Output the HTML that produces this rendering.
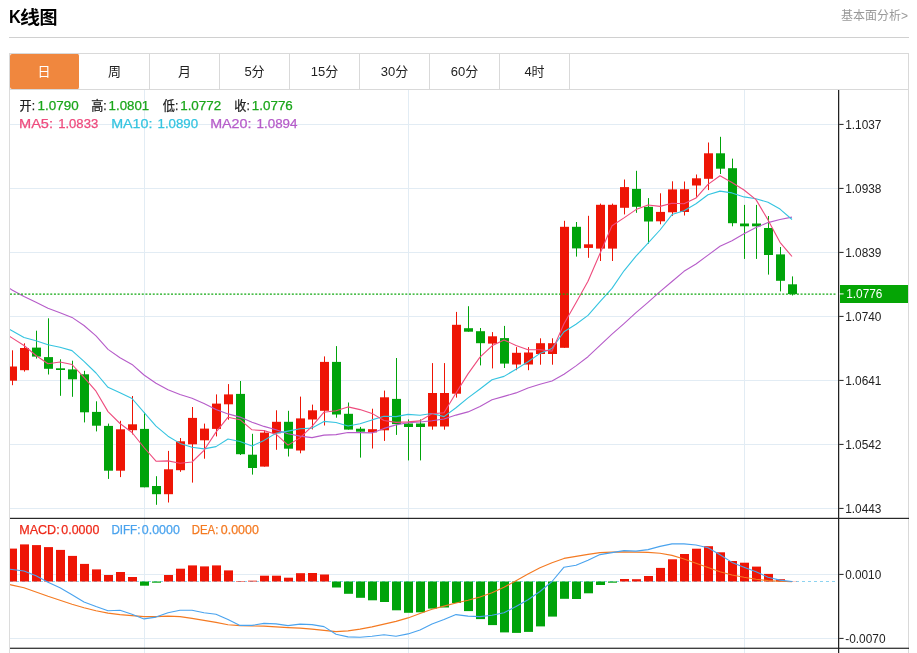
<!DOCTYPE html>
<html lang="zh-CN"><head><meta charset="utf-8"><title>K线图</title>
<style>
html,body{margin:0;padding:0;background:#fff}
body{width:917px;height:653px;position:relative;overflow:hidden;font-family:"Liberation Sans","Noto Sans CJK SC",sans-serif;color:#222}
.title{position:absolute;left:9px;top:6px;width:60px;height:24px;font-size:17px;font-weight:bold;line-height:24px;color:#000;letter-spacing:0.9px}
.title .k{position:absolute;left:0;top:-1px;font-size:19px;line-height:24px;transform:scaleX(.86);transform-origin:0 50%;letter-spacing:0}
.title .cj{position:absolute;top:-0.5px;font-size:18px;line-height:24px;letter-spacing:0;white-space:nowrap;transform-origin:0 50%}
.title .c1{left:10.9px;transform:scaleX(1.11)}
.title .c2{left:30.5px}
.more{position:absolute;right:9px;top:8px;font-size:12px;line-height:16px;color:#999}
.hr{position:absolute;left:9px;top:37px;width:900px;height:1px;background:#d0d0d0}
.tabs{position:absolute;left:9px;top:53px;width:898px;height:35px;border:1px solid #d9d9d9;box-sizing:content-box;background:#fff}
.tab{float:left;width:69px;height:35px;line-height:35px;text-align:center;font-size:13px;border-right:1px solid #d9d9d9;color:#222}
.tab.on{background:#f0873e;color:#fff;border-right-color:#fff;border-radius:2px;text-indent:-1px}
</style></head><body>
<div class="title"><span class="k">K</span><span class="cj c1">线</span><span class="cj c2">图</span></div>
<div class="more">基本面分析&gt;</div>
<div class="hr"></div>
<svg width="917" height="653" viewBox="0 0 917 653" style="position:absolute;left:0;top:0" font-family="'Liberation Sans','Noto Sans CJK SC',sans-serif">
<defs><clipPath id="ck"><rect x="10" y="90" width="828" height="429"/></clipPath><clipPath id="cm"><rect x="10" y="519" width="828" height="129"/></clipPath></defs>
<rect x="10" y="124" width="828" height="1" fill="#e2ecf4"/>
<rect x="10" y="188" width="828" height="1" fill="#e2ecf4"/>
<rect x="10" y="252" width="828" height="1" fill="#e2ecf4"/>
<rect x="10" y="316" width="828" height="1" fill="#e2ecf4"/>
<rect x="10" y="380" width="828" height="1" fill="#e2ecf4"/>
<rect x="10" y="444" width="828" height="1" fill="#e2ecf4"/>
<rect x="10" y="508" width="828" height="1" fill="#e2ecf4"/>
<rect x="10" y="574" width="828" height="1" fill="#e2ecf4"/>
<rect x="10" y="638" width="828" height="1" fill="#e2ecf4"/>
<rect x="144" y="90" width="1" height="563" fill="#e2ecf4"/>
<rect x="408" y="90" width="1" height="563" fill="#e2ecf4"/>
<rect x="744" y="90" width="1" height="563" fill="#e2ecf4"/>
<rect x="9" y="90" width="1" height="563" fill="#dcdcdc"/>
<rect x="908" y="53" width="1" height="600" fill="#d9d9d9"/>
<line x1="10" y1="581.5" x2="836" y2="581.5" stroke="#8dd3f0" stroke-width="1.1" stroke-dasharray="3 3"/>
<g clip-path="url(#ck)">
<rect x="12" y="350.3" width="1" height="34.9" fill="#ee1505"/>
<rect x="8" y="366.5" width="9" height="14.2" fill="#ee1505"/>
<rect x="24" y="343.3" width="1" height="28.3" fill="#ee1505"/>
<rect x="20" y="348" width="9" height="22.2" fill="#ee1505"/>
<rect x="36" y="330.7" width="1" height="27.9" fill="#00a30a"/>
<rect x="32" y="347.6" width="9" height="9" fill="#00a30a"/>
<rect x="48" y="318.3" width="1" height="56.2" fill="#00a30a"/>
<rect x="44" y="357.1" width="9" height="11.7" fill="#00a30a"/>
<rect x="60" y="359.3" width="1" height="36.5" fill="#00a30a"/>
<rect x="56" y="368.3" width="9" height="1.7" fill="#00a30a"/>
<rect x="72" y="360.7" width="1" height="36.1" fill="#00a30a"/>
<rect x="68" y="369.4" width="9" height="9.9" fill="#00a30a"/>
<rect x="84" y="370.8" width="1" height="51.6" fill="#00a30a"/>
<rect x="80" y="374.3" width="9" height="38" fill="#00a30a"/>
<rect x="96" y="401.3" width="1" height="30.1" fill="#00a30a"/>
<rect x="92" y="411.9" width="9" height="13.8" fill="#00a30a"/>
<rect x="108" y="423.6" width="1" height="55.3" fill="#00a30a"/>
<rect x="104" y="425.9" width="9" height="44.8" fill="#00a30a"/>
<rect x="120" y="420.8" width="1" height="56.3" fill="#ee1505"/>
<rect x="116" y="429.3" width="9" height="41.4" fill="#ee1505"/>
<rect x="132" y="396" width="1" height="38.4" fill="#ee1505"/>
<rect x="128" y="424.3" width="9" height="5.9" fill="#ee1505"/>
<rect x="144" y="412.3" width="1" height="75" fill="#00a30a"/>
<rect x="140" y="428.9" width="9" height="58.4" fill="#00a30a"/>
<rect x="156" y="476.2" width="1" height="28.6" fill="#00a30a"/>
<rect x="152" y="486" width="9" height="8.2" fill="#00a30a"/>
<rect x="168" y="450.9" width="1" height="51.6" fill="#ee1505"/>
<rect x="164" y="469.3" width="9" height="24.9" fill="#ee1505"/>
<rect x="180" y="438" width="1" height="33.8" fill="#ee1505"/>
<rect x="176" y="441.3" width="9" height="28.9" fill="#ee1505"/>
<rect x="192" y="407" width="1" height="75.6" fill="#ee1505"/>
<rect x="188" y="417.9" width="9" height="26.4" fill="#ee1505"/>
<rect x="204" y="423.6" width="1" height="35.1" fill="#ee1505"/>
<rect x="200" y="428.6" width="9" height="11.7" fill="#ee1505"/>
<rect x="216" y="394.4" width="1" height="42" fill="#ee1505"/>
<rect x="212" y="403.6" width="9" height="25.3" fill="#ee1505"/>
<rect x="228" y="384.1" width="1" height="35.6" fill="#ee1505"/>
<rect x="224" y="394.4" width="9" height="9.9" fill="#ee1505"/>
<rect x="240" y="381" width="1" height="74" fill="#00a30a"/>
<rect x="236" y="393.9" width="9" height="60.3" fill="#00a30a"/>
<rect x="252" y="433.8" width="1" height="40.8" fill="#00a30a"/>
<rect x="248" y="454.7" width="9" height="13.3" fill="#00a30a"/>
<rect x="264" y="430.3" width="1" height="36.3" fill="#ee1505"/>
<rect x="260" y="432.6" width="9" height="34" fill="#ee1505"/>
<rect x="276" y="410.3" width="1" height="39.5" fill="#ee1505"/>
<rect x="272" y="421.8" width="9" height="11.5" fill="#ee1505"/>
<rect x="288" y="410.8" width="1" height="45.7" fill="#00a30a"/>
<rect x="284" y="421.8" width="9" height="26.9" fill="#00a30a"/>
<rect x="300" y="396.6" width="1" height="56.7" fill="#ee1505"/>
<rect x="296" y="418.4" width="9" height="32.1" fill="#ee1505"/>
<rect x="312" y="404.6" width="1" height="24.8" fill="#ee1505"/>
<rect x="308" y="410.3" width="9" height="9.2" fill="#ee1505"/>
<rect x="324" y="356.4" width="1" height="69.1" fill="#ee1505"/>
<rect x="320" y="361.9" width="9" height="48.9" fill="#ee1505"/>
<rect x="336" y="346.1" width="1" height="71.6" fill="#00a30a"/>
<rect x="332" y="361.9" width="9" height="52.6" fill="#00a30a"/>
<rect x="348" y="402.5" width="1" height="27.1" fill="#00a30a"/>
<rect x="344" y="413.8" width="9" height="15.8" fill="#00a30a"/>
<rect x="360" y="426.9" width="1" height="30.7" fill="#00a30a"/>
<rect x="356" y="428.7" width="9" height="3" fill="#00a30a"/>
<rect x="372" y="408.7" width="1" height="39.8" fill="#ee1505"/>
<rect x="368" y="429.2" width="9" height="3.2" fill="#ee1505"/>
<rect x="384" y="390.6" width="1" height="50.3" fill="#ee1505"/>
<rect x="380" y="397.3" width="9" height="33" fill="#ee1505"/>
<rect x="396" y="358" width="1" height="76.9" fill="#00a30a"/>
<rect x="392" y="398.9" width="9" height="25.2" fill="#00a30a"/>
<rect x="408" y="419.4" width="1" height="41" fill="#00a30a"/>
<rect x="404" y="423.5" width="9" height="3.5" fill="#00a30a"/>
<rect x="420" y="419.4" width="1" height="41" fill="#00a30a"/>
<rect x="416" y="423.5" width="9" height="3.5" fill="#00a30a"/>
<rect x="432" y="363.1" width="1" height="66.6" fill="#ee1505"/>
<rect x="428" y="393" width="9" height="33.5" fill="#ee1505"/>
<rect x="444" y="363.1" width="1" height="66.6" fill="#ee1505"/>
<rect x="440" y="393" width="9" height="33.5" fill="#ee1505"/>
<rect x="456" y="311.9" width="1" height="85.7" fill="#ee1505"/>
<rect x="452" y="324.8" width="9" height="68.9" fill="#ee1505"/>
<rect x="468" y="306.2" width="1" height="25.5" fill="#00a30a"/>
<rect x="464" y="328.2" width="9" height="3.5" fill="#00a30a"/>
<rect x="480" y="328" width="1" height="37.4" fill="#00a30a"/>
<rect x="476" y="331.2" width="9" height="12" fill="#00a30a"/>
<rect x="492" y="332.1" width="1" height="36.3" fill="#ee1505"/>
<rect x="488" y="336.3" width="9" height="7.3" fill="#ee1505"/>
<rect x="504" y="325.9" width="1" height="42.1" fill="#00a30a"/>
<rect x="500" y="338.1" width="9" height="25.5" fill="#00a30a"/>
<rect x="516" y="347.1" width="1" height="23.1" fill="#ee1505"/>
<rect x="512" y="352.8" width="9" height="11.7" fill="#ee1505"/>
<rect x="528" y="347.1" width="1" height="23.1" fill="#ee1505"/>
<rect x="524" y="352.5" width="9" height="12" fill="#ee1505"/>
<rect x="540" y="338.3" width="1" height="26.4" fill="#ee1505"/>
<rect x="536" y="343.2" width="9" height="10.8" fill="#ee1505"/>
<rect x="552" y="338.3" width="1" height="26.4" fill="#ee1505"/>
<rect x="548" y="343.2" width="9" height="10.8" fill="#ee1505"/>
<rect x="564" y="220.8" width="1" height="127" fill="#ee1505"/>
<rect x="560" y="226.8" width="9" height="121" fill="#ee1505"/>
<rect x="576" y="222" width="1" height="34.6" fill="#00a30a"/>
<rect x="572" y="226.8" width="9" height="21.6" fill="#00a30a"/>
<rect x="588" y="215.8" width="1" height="42" fill="#ee1505"/>
<rect x="584" y="244.3" width="9" height="3.6" fill="#ee1505"/>
<rect x="600" y="203.6" width="1" height="57.4" fill="#ee1505"/>
<rect x="596" y="204.8" width="9" height="43.8" fill="#ee1505"/>
<rect x="612" y="203.6" width="1" height="57.4" fill="#ee1505"/>
<rect x="608" y="204.8" width="9" height="43.8" fill="#ee1505"/>
<rect x="624" y="179.5" width="1" height="34.9" fill="#ee1505"/>
<rect x="620" y="187.1" width="9" height="20.7" fill="#ee1505"/>
<rect x="636" y="170.8" width="1" height="42" fill="#00a30a"/>
<rect x="632" y="188.9" width="9" height="17.9" fill="#00a30a"/>
<rect x="648" y="198.1" width="1" height="45.5" fill="#00a30a"/>
<rect x="644" y="206.8" width="9" height="14.7" fill="#00a30a"/>
<rect x="660" y="193.3" width="1" height="31" fill="#ee1505"/>
<rect x="656" y="211.9" width="9" height="9.4" fill="#ee1505"/>
<rect x="672" y="181.3" width="1" height="34.5" fill="#ee1505"/>
<rect x="668" y="189.4" width="9" height="22.9" fill="#ee1505"/>
<rect x="684" y="181.5" width="1" height="34" fill="#ee1505"/>
<rect x="680" y="189.2" width="9" height="22.8" fill="#ee1505"/>
<rect x="696" y="174.5" width="1" height="22.3" fill="#ee1505"/>
<rect x="692" y="178.3" width="9" height="7.2" fill="#ee1505"/>
<rect x="708" y="142.5" width="1" height="47.6" fill="#ee1505"/>
<rect x="704" y="153.3" width="9" height="25.5" fill="#ee1505"/>
<rect x="720" y="136.8" width="1" height="37.2" fill="#00a30a"/>
<rect x="716" y="153.3" width="9" height="15.4" fill="#00a30a"/>
<rect x="732" y="158.6" width="1" height="67.7" fill="#00a30a"/>
<rect x="728" y="168.2" width="9" height="55" fill="#00a30a"/>
<rect x="744" y="204.9" width="1" height="54" fill="#00a30a"/>
<rect x="740" y="223.5" width="9" height="2.8" fill="#00a30a"/>
<rect x="756" y="204.9" width="1" height="54" fill="#00a30a"/>
<rect x="752" y="223.5" width="9" height="2.8" fill="#00a30a"/>
<rect x="768" y="216" width="1" height="58.6" fill="#00a30a"/>
<rect x="764" y="228" width="9" height="27" fill="#00a30a"/>
<rect x="780" y="247" width="1" height="44.4" fill="#00a30a"/>
<rect x="776" y="254.4" width="9" height="26.4" fill="#00a30a"/>
<rect x="792" y="276.4" width="1" height="19.1" fill="#00a30a"/>
<rect x="788" y="284.3" width="9" height="9.8" fill="#00a30a"/>
</g>
<polyline clip-path="url(#ck)" fill="none" stroke="#b65cc9" stroke-width="1.1" stroke-linejoin="round" points="0.5,283.2 12,289.9 24,296.6 36,302.2 48,308.3 60,312.7 72,317.4 84,325.5 96,335.8 108,349.4 120,357.8 132,364.4 144,375.0 156,383.2 168,389.8 180,394.4 192,398.3 204,403.6 216,409.4 228,413.9 240,417.1 252,422.2 264,426.4 276,429.7 288,433.7 300,436.1 312,437.6 324,435.1 336,434.6 348,432.5 360,432.6 372,432.9 384,428.4 396,424.9 408,422.8 420,422.0 432,420.8 444,419.0 456,415.1 468,411.9 480,406.4 492,399.8 504,396.4 516,392.9 528,388.1 540,384.3 552,381.0 564,374.2 576,365.9 588,356.7 600,345.3 612,334.1 624,323.6 636,312.7 648,302.4 660,291.7 672,281.5 684,271.3 696,264.0 708,255.1 720,246.3 732,240.7 744,233.8 756,227.5 768,222.6 780,219.5 792,217.1"/>
<polyline clip-path="url(#ck)" fill="none" stroke="#35c4e0" stroke-width="1.1" stroke-linejoin="round" points="0.5,324.1 12,330.8 24,337.5 36,340.7 48,344.8 60,347.3 72,350.6 84,361.3 96,373.0 108,387.3 120,392.7 132,398.5 144,412.4 156,426.2 168,436.2 180,443.4 192,447.2 204,448.9 216,446.6 228,439.0 240,441.5 252,445.9 264,440.4 276,433.2 288,431.1 300,428.8 312,428.1 324,421.4 336,422.5 348,426.0 360,423.8 372,419.9 384,416.3 396,416.6 408,414.4 420,415.3 432,413.5 444,416.6 456,407.7 468,397.9 480,389.0 492,379.7 504,376.4 516,369.2 528,361.8 540,353.4 552,348.4 564,331.8 576,324.2 588,315.4 600,301.6 612,288.4 624,270.8 636,256.2 648,243.1 660,230.0 672,214.6 684,210.8 696,203.8 708,194.7 720,191.1 732,192.9 744,196.9 756,198.8 768,202.2 780,209.1 792,219.5"/>
<polyline clip-path="url(#ck)" fill="none" stroke="#ee4b7d" stroke-width="1.1" stroke-linejoin="round" points="0.5,330.3 12,337.9 24,345.5 36,355.5 48,363.7 60,362.0 72,364.5 84,377.4 96,391.2 108,411.6 120,423.5 132,432.5 144,447.5 156,461.2 168,460.9 180,463.3 192,462.0 204,450.3 216,432.1 228,417.2 240,419.7 252,429.8 264,430.6 276,434.2 288,445.1 300,437.9 312,426.4 324,412.2 336,410.8 348,406.9 360,409.6 372,413.4 384,420.5 396,422.4 408,421.9 420,420.9 432,413.7 444,412.8 456,393.0 468,373.9 480,357.1 492,345.8 504,339.9 516,345.5 528,349.7 540,349.7 552,351.1 564,323.7 576,302.8 588,281.2 600,253.5 612,225.8 624,217.9 636,209.6 648,205.0 660,206.4 672,203.3 684,203.8 696,198.1 708,184.4 720,175.8 732,182.5 744,190.0 756,199.6 768,219.9 780,242.3 792,256.5"/>
<line x1="10" y1="294.1" x2="836.5" y2="294.1" stroke="#10a810" stroke-width="1.1" stroke-dasharray="2 1.66"/>
<g clip-path="url(#cm)">
<rect x="8" y="548.6" width="9" height="32.9" fill="#ee1505"/>
<rect x="20" y="544.4" width="9" height="37.1" fill="#ee1505"/>
<rect x="32" y="545.1" width="9" height="36.4" fill="#ee1505"/>
<rect x="44" y="547.1" width="9" height="34.4" fill="#ee1505"/>
<rect x="56" y="549.9" width="9" height="31.6" fill="#ee1505"/>
<rect x="68" y="555.9" width="9" height="25.6" fill="#ee1505"/>
<rect x="80" y="563.9" width="9" height="17.6" fill="#ee1505"/>
<rect x="92" y="569.4" width="9" height="12.1" fill="#ee1505"/>
<rect x="104" y="575" width="9" height="6.5" fill="#ee1505"/>
<rect x="116" y="572" width="9" height="9.5" fill="#ee1505"/>
<rect x="128" y="577" width="9" height="4.5" fill="#ee1505"/>
<rect x="140" y="581.5" width="9" height="4.2" fill="#00a30a"/>
<rect x="152" y="581.5" width="9" height="1.2" fill="#00a30a"/>
<rect x="164" y="575" width="9" height="6.5" fill="#ee1505"/>
<rect x="176" y="568.7" width="9" height="12.8" fill="#ee1505"/>
<rect x="188" y="565.4" width="9" height="16.1" fill="#ee1505"/>
<rect x="200" y="566.4" width="9" height="15.1" fill="#ee1505"/>
<rect x="212" y="565.4" width="9" height="16.1" fill="#ee1505"/>
<rect x="224" y="570.4" width="9" height="11.1" fill="#ee1505"/>
<rect x="236" y="581" width="9" height="0.5" fill="#ee1505"/>
<rect x="248" y="580.7" width="9" height="0.8" fill="#ee1505"/>
<rect x="260" y="575.7" width="9" height="5.8" fill="#ee1505"/>
<rect x="272" y="575.7" width="9" height="5.8" fill="#ee1505"/>
<rect x="284" y="577.7" width="9" height="3.8" fill="#ee1505"/>
<rect x="296" y="573.2" width="9" height="8.3" fill="#ee1505"/>
<rect x="308" y="573" width="9" height="8.5" fill="#ee1505"/>
<rect x="320" y="574.5" width="9" height="7" fill="#ee1505"/>
<rect x="332" y="581.5" width="9" height="6" fill="#00a30a"/>
<rect x="344" y="581.5" width="9" height="12.3" fill="#00a30a"/>
<rect x="356" y="581.5" width="9" height="16.3" fill="#00a30a"/>
<rect x="368" y="581.5" width="9" height="18.8" fill="#00a30a"/>
<rect x="380" y="581.5" width="9" height="20.5" fill="#00a30a"/>
<rect x="392" y="581.5" width="9" height="28.8" fill="#00a30a"/>
<rect x="404" y="581.5" width="9" height="31.3" fill="#00a30a"/>
<rect x="416" y="581.5" width="9" height="30.8" fill="#00a30a"/>
<rect x="428" y="581.5" width="9" height="27.1" fill="#00a30a"/>
<rect x="440" y="581.5" width="9" height="26" fill="#00a30a"/>
<rect x="452" y="581.5" width="9" height="21.5" fill="#00a30a"/>
<rect x="464" y="581.5" width="9" height="29.6" fill="#00a30a"/>
<rect x="476" y="581.5" width="9" height="37.6" fill="#00a30a"/>
<rect x="488" y="581.5" width="9" height="43.6" fill="#00a30a"/>
<rect x="500" y="581.5" width="9" height="50.9" fill="#00a30a"/>
<rect x="512" y="581.5" width="9" height="51.4" fill="#00a30a"/>
<rect x="524" y="581.5" width="9" height="50.4" fill="#00a30a"/>
<rect x="536" y="581.5" width="9" height="44.9" fill="#00a30a"/>
<rect x="548" y="581.5" width="9" height="35.1" fill="#00a30a"/>
<rect x="560" y="581.5" width="9" height="17.3" fill="#00a30a"/>
<rect x="572" y="581.5" width="9" height="17.5" fill="#00a30a"/>
<rect x="584" y="581.5" width="9" height="11.8" fill="#00a30a"/>
<rect x="596" y="581.5" width="9" height="3.5" fill="#00a30a"/>
<rect x="608" y="581.5" width="9" height="1.2" fill="#00a30a"/>
<rect x="620" y="579" width="9" height="2.5" fill="#ee1505"/>
<rect x="632" y="579.2" width="9" height="2.3" fill="#ee1505"/>
<rect x="644" y="576" width="9" height="5.5" fill="#ee1505"/>
<rect x="656" y="567.9" width="9" height="13.6" fill="#ee1505"/>
<rect x="668" y="559.3" width="9" height="22.2" fill="#ee1505"/>
<rect x="680" y="554" width="9" height="27.5" fill="#ee1505"/>
<rect x="692" y="548.7" width="9" height="32.8" fill="#ee1505"/>
<rect x="704" y="546.2" width="9" height="35.3" fill="#ee1505"/>
<rect x="716" y="552.3" width="9" height="29.2" fill="#ee1505"/>
<rect x="728" y="561" width="9" height="20.5" fill="#ee1505"/>
<rect x="740" y="562.7" width="9" height="18.8" fill="#ee1505"/>
<rect x="752" y="566.6" width="9" height="14.9" fill="#ee1505"/>
<rect x="764" y="573.9" width="9" height="7.6" fill="#ee1505"/>
<rect x="776" y="579.2" width="9" height="2.3" fill="#ee1505"/>
<rect x="788" y="581.3" width="9" height="0.2" fill="#ee1505"/>
</g>
<polyline clip-path="url(#cm)" fill="none" stroke="#f47a22" stroke-width="1.1" stroke-linejoin="round" points="0.5,582.4 12,585.1 24,587.8 36,592.0 48,596.3 60,600.3 72,604.3 84,607.8 96,610.8 108,613.1 120,614.6 132,615.6 144,616.6 156,616.6 168,616.1 180,616.6 192,618.4 204,620.4 216,622.4 228,624.7 240,625.6 252,625.9 264,626.1 276,626.9 288,627.6 300,628.1 312,629.1 324,630.4 336,631.6 348,630.9 360,629.1 372,626.9 384,624.1 396,621.4 408,617.9 420,613.6 432,609.3 444,606.1 456,603.0 468,600.3 480,597.0 492,592.8 504,587.3 516,580.7 528,574.0 540,567.7 552,562.7 564,558.4 576,556.4 588,554.4 600,552.6 612,552.1 624,551.9 636,552.1 648,552.4 660,553.2 672,555.4 684,559.0 696,563.2 708,567.5 720,571.7 732,575.0 744,577.3 756,579.2 768,580.6 780,581.2 792,581.7"/>
<polyline clip-path="url(#cm)" fill="none" stroke="#4aa3ee" stroke-width="1.1" stroke-linejoin="round" points="0.5,568 12,569.5 24,571.0 36,575.7 48,582.2 60,587.8 72,594.8 84,602.0 96,606.6 108,610.8 120,610.3 132,614.3 144,618.9 156,617.1 168,612.8 180,610.3 192,610.3 204,612.8 216,614.3 228,619.6 240,625.4 252,625.4 264,623.4 276,623.9 288,625.6 300,624.1 312,624.6 324,626.6 336,634.2 348,636.9 360,637.2 372,636.2 384,634.7 396,636.2 408,633.9 420,629.9 432,624.1 444,619.6 456,614.6 468,616.1 480,616.6 492,615.3 504,612.8 516,606.6 528,599.8 540,591.5 552,581.5 564,567.2 576,565.2 588,560.2 600,554.6 612,552.6 624,550.6 636,551.1 648,549.6 660,546.4 672,543.9 684,543.9 696,545.0 708,547.8 720,554.8 732,562.4 744,567.2 756,571.7 768,577.3 780,580.1 792,581.5"/>
<rect x="10" y="517.8" width="899" height="1.1" fill="#111"/>
<rect x="10" y="647.7" width="899" height="1.1" fill="#111"/>
<rect x="838" y="90" width="1.25" height="563" fill="#222"/>
<rect x="839.2" y="123.9" width="4.4" height="1" fill="#222"/>
<text x="845.2" y="128.6" font-size="12" fill="#222" textLength="36.2" lengthAdjust="spacingAndGlyphs">1.1037</text>
<rect x="839.2" y="187.9" width="4.4" height="1" fill="#222"/>
<text x="845.2" y="192.6" font-size="12" fill="#222" textLength="36.2" lengthAdjust="spacingAndGlyphs">1.0938</text>
<rect x="839.2" y="251.9" width="4.4" height="1" fill="#222"/>
<text x="845.2" y="256.6" font-size="12" fill="#222" textLength="36.2" lengthAdjust="spacingAndGlyphs">1.0839</text>
<rect x="839.2" y="315.9" width="4.4" height="1" fill="#222"/>
<text x="845.2" y="320.6" font-size="12" fill="#222" textLength="36.2" lengthAdjust="spacingAndGlyphs">1.0740</text>
<rect x="839.2" y="379.9" width="4.4" height="1" fill="#222"/>
<text x="845.2" y="384.6" font-size="12" fill="#222" textLength="36.2" lengthAdjust="spacingAndGlyphs">1.0641</text>
<rect x="839.2" y="443.9" width="4.4" height="1" fill="#222"/>
<text x="845.2" y="448.6" font-size="12" fill="#222" textLength="36.2" lengthAdjust="spacingAndGlyphs">1.0542</text>
<rect x="839.2" y="507.9" width="4.4" height="1" fill="#222"/>
<text x="845.2" y="512.6" font-size="12" fill="#222" textLength="36.2" lengthAdjust="spacingAndGlyphs">1.0443</text>
<rect x="840" y="285" width="68" height="18" fill="#05a505"/>
<rect x="839.2" y="293.4" width="4.4" height="1" fill="#fff"/>
<text x="846.2" y="298.1" font-size="12" fill="#fff" textLength="36.2" lengthAdjust="spacingAndGlyphs">1.0776</text>
<rect x="839.2" y="573.9" width="4.4" height="1" fill="#222"/>
<text x="845.2" y="578.6" font-size="12" fill="#222" textLength="36" lengthAdjust="spacingAndGlyphs">0.0010</text>
<rect x="839.2" y="637.9" width="4.4" height="1" fill="#222"/>
<text x="845.2" y="642.6" font-size="12" fill="#222" textLength="40.3" lengthAdjust="spacingAndGlyphs">-0.0070</text>
<text x="19.6" y="109.8" font-size="13" fill="#222" stroke="#222" stroke-width="0.25" textLength="15.5" lengthAdjust="spacingAndGlyphs">开:</text>
<text x="37.6" y="109.8" font-size="13" fill="#1aa61a" stroke="#1aa61a" stroke-width="0.25" textLength="41" lengthAdjust="spacingAndGlyphs">1.0790</text>
<text x="91.2" y="109.8" font-size="13" fill="#222" stroke="#222" stroke-width="0.25" textLength="15.5" lengthAdjust="spacingAndGlyphs">高:</text>
<text x="108.6" y="109.8" font-size="13" fill="#1aa61a" stroke="#1aa61a" stroke-width="0.25" textLength="40.6" lengthAdjust="spacingAndGlyphs">1.0801</text>
<text x="162.8" y="109.8" font-size="13" fill="#222" stroke="#222" stroke-width="0.25" textLength="15.5" lengthAdjust="spacingAndGlyphs">低:</text>
<text x="180.2" y="109.8" font-size="13" fill="#1aa61a" stroke="#1aa61a" stroke-width="0.25" textLength="41" lengthAdjust="spacingAndGlyphs">1.0772</text>
<text x="234.3" y="109.8" font-size="13" fill="#222" stroke="#222" stroke-width="0.25" textLength="15.5" lengthAdjust="spacingAndGlyphs">收:</text>
<text x="251.8" y="109.8" font-size="13" fill="#1aa61a" stroke="#1aa61a" stroke-width="0.25" textLength="41" lengthAdjust="spacingAndGlyphs">1.0776</text>
<text x="19" y="128.2" font-size="12.5" fill="#ee4b7d" stroke="#ee4b7d" stroke-width="0.25" textLength="34" lengthAdjust="spacingAndGlyphs">MA5:</text>
<text x="58.2" y="128.2" font-size="12.5" fill="#ee4b7d" stroke="#ee4b7d" stroke-width="0.25" textLength="40" lengthAdjust="spacingAndGlyphs">1.0833</text>
<text x="111.2" y="128.2" font-size="12.5" fill="#35c4e0" stroke="#35c4e0" stroke-width="0.25" textLength="41.3" lengthAdjust="spacingAndGlyphs">MA10:</text>
<text x="157.5" y="128.2" font-size="12.5" fill="#35c4e0" stroke="#35c4e0" stroke-width="0.25" textLength="40.6" lengthAdjust="spacingAndGlyphs">1.0890</text>
<text x="210.2" y="128.2" font-size="12.5" fill="#b65cc9" stroke="#b65cc9" stroke-width="0.25" textLength="41.3" lengthAdjust="spacingAndGlyphs">MA20:</text>
<text x="256.5" y="128.2" font-size="12.5" fill="#b65cc9" stroke="#b65cc9" stroke-width="0.25" textLength="41" lengthAdjust="spacingAndGlyphs">1.0894</text>
<text x="19.2" y="534" font-size="12" fill="#ee2a1a" stroke="#ee2a1a" stroke-width="0.25" textLength="40.5" lengthAdjust="spacingAndGlyphs">MACD:</text>
<text x="61.3" y="534" font-size="12" fill="#ee2a1a" stroke="#ee2a1a" stroke-width="0.25" textLength="38" lengthAdjust="spacingAndGlyphs">0.0000</text>
<text x="111.4" y="534" font-size="12" fill="#4aa3ee" stroke="#4aa3ee" stroke-width="0.25" textLength="29" lengthAdjust="spacingAndGlyphs">DIFF:</text>
<text x="141.8" y="534" font-size="12" fill="#4aa3ee" stroke="#4aa3ee" stroke-width="0.25" textLength="38" lengthAdjust="spacingAndGlyphs">0.0000</text>
<text x="191.8" y="534" font-size="12" fill="#f47a22" stroke="#f47a22" stroke-width="0.25" textLength="26.5" lengthAdjust="spacingAndGlyphs">DEA:</text>
<text x="220.8" y="534" font-size="12" fill="#f47a22" stroke="#f47a22" stroke-width="0.25" textLength="38" lengthAdjust="spacingAndGlyphs">0.0000</text>
</svg>
<div class="tabs"><div class="tab on">日</div><div class="tab">周</div><div class="tab">月</div><div class="tab">5分</div><div class="tab">15分</div><div class="tab">30分</div><div class="tab">60分</div><div class="tab">4时</div></div>
</body></html>
